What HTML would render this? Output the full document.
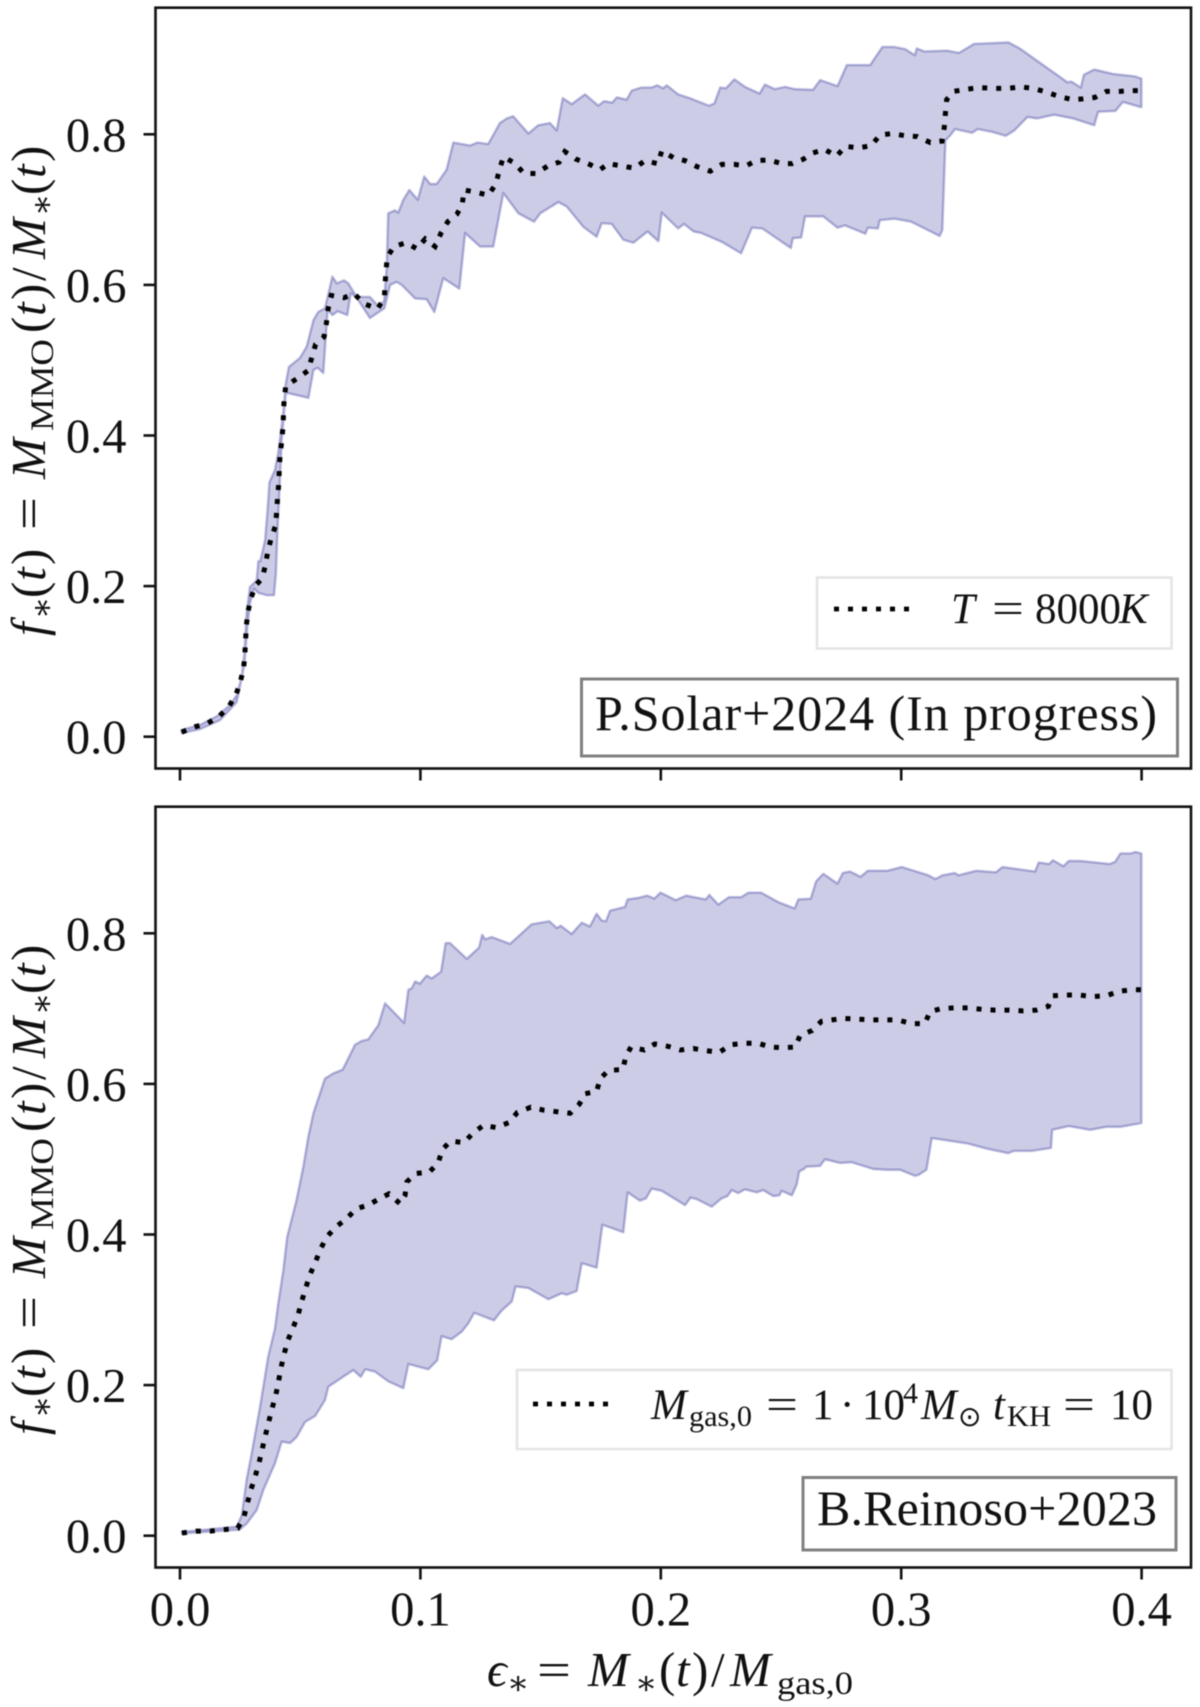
<!DOCTYPE html>
<html lang="en">
<head>
<meta charset="utf-8">
<title>Fraction of stellar mass in the most massive object</title>
<style>
  html, body { margin: 0; padding: 0; background: #fff; }
  svg { display: block; filter: blur(0.4px); }
  text { font-family: "Liberation Serif", "DejaVu Serif", serif; fill: #111; }
  .i { font-style: italic; }
</style>
</head>
<body>
<svg id="chart" xmlns="http://www.w3.org/2000/svg" width="1200" height="1707" viewBox="0 0 1200 1707">
  <rect x="0" y="0" width="1200" height="1707" fill="#fff"/>
  <g id="panel-top"></g>
  <g id="panel-bottom"></g>

  <!-- Y axis titles -->
  <text transform="translate(45,636) rotate(-90)" font-size="49"><tspan class="i" x="0">f</tspan><tspan font-size="33" x="17" y="8">∗</tspan><tspan x="38" y="0">(</tspan><tspan class="i" x="55">t</tspan><tspan x="71">)</tspan><tspan x="106" textLength="33" lengthAdjust="spacingAndGlyphs">=</tspan><tspan class="i" x="157">M</tspan><tspan font-size="33" x="205" y="8" textLength="92" lengthAdjust="spacingAndGlyphs">MMO</tspan><tspan x="303" y="0">(</tspan><tspan class="i" x="320">t</tspan><tspan x="336">)</tspan><tspan x="355">/</tspan><tspan class="i" x="377">M</tspan><tspan font-size="33" x="420" y="8">∗</tspan><tspan x="441" y="0">(</tspan><tspan class="i" x="458">t</tspan><tspan x="474">)</tspan></text>
  <text transform="translate(45,1435) rotate(-90)" font-size="49"><tspan class="i" x="0">f</tspan><tspan font-size="33" x="17" y="8">∗</tspan><tspan x="38" y="0">(</tspan><tspan class="i" x="55">t</tspan><tspan x="71">)</tspan><tspan x="106" textLength="33" lengthAdjust="spacingAndGlyphs">=</tspan><tspan class="i" x="157">M</tspan><tspan font-size="33" x="205" y="8" textLength="92" lengthAdjust="spacingAndGlyphs">MMO</tspan><tspan x="303" y="0">(</tspan><tspan class="i" x="320">t</tspan><tspan x="336">)</tspan><tspan x="355">/</tspan><tspan class="i" x="377">M</tspan><tspan font-size="33" x="420" y="8">∗</tspan><tspan x="441" y="0">(</tspan><tspan class="i" x="458">t</tspan><tspan x="474">)</tspan></text>

  <!-- X axis title -->
  <text font-size="49" y="1686"><tspan class="i" x="487">ϵ</tspan><tspan font-size="33" x="507" y="1694">∗</tspan><tspan x="537" y="1686" textLength="34" lengthAdjust="spacingAndGlyphs">=</tspan><tspan class="i" x="588">M</tspan><tspan font-size="33" x="635" y="1694">∗</tspan><tspan x="659" y="1686">(</tspan><tspan class="i" x="676">t</tspan><tspan x="692">)</tspan><tspan x="711">/</tspan><tspan class="i" x="730">M</tspan><tspan font-size="33" x="777" y="1694" textLength="76" lengthAdjust="spacingAndGlyphs">gas,0</tspan></text>

  <!-- Top legend -->
  <g>
    <rect x="817" y="577.5" width="354.5" height="71" fill="#fff" stroke="#e4e4e4" stroke-width="2.5"/>
    <line x1="834" y1="609" x2="918" y2="609" stroke="#000" stroke-width="4.8" stroke-dasharray="5 9"/>
    <text font-size="43" y="623"><tspan class="i" x="951">T</tspan><tspan x="992" textLength="32" lengthAdjust="spacingAndGlyphs">=</tspan><tspan x="1035">8000</tspan><tspan class="i" x="1119">K</tspan></text>
  </g>
  <g>
    <rect x="581.5" y="679" width="596" height="77" fill="#fff" stroke="#808080" stroke-width="3"/>
    <text font-size="50" x="595" y="730" textLength="562">P.Solar+2024 (In progress)</text>
  </g>

  <!-- Bottom legend -->
  <g>
    <rect x="517" y="1370" width="654.5" height="79" fill="#fff" stroke="#e4e4e4" stroke-width="2.5"/>
    <line x1="533" y1="1404" x2="617" y2="1404" stroke="#000" stroke-width="4.8" stroke-dasharray="5 9"/>
    <text font-size="43" y="1419"><tspan class="i" x="651">M</tspan><tspan font-size="30" x="689" y="1426" textLength="63" lengthAdjust="spacingAndGlyphs">gas,0</tspan><tspan x="766" y="1419" textLength="32" lengthAdjust="spacingAndGlyphs">=</tspan><tspan x="812">1</tspan><tspan x="840">·</tspan><tspan x="862">10</tspan><tspan font-size="30" x="903" y="1403">4</tspan><tspan class="i" x="921" y="1419">M</tspan><tspan font-size="28" x="958" y="1426" font-family="DejaVu Sans, sans-serif">⊙</tspan><tspan class="i" x="993" y="1419">t</tspan><tspan font-size="30" x="1007" y="1426" textLength="44" lengthAdjust="spacingAndGlyphs">KH</tspan><tspan x="1063" y="1419" textLength="32" lengthAdjust="spacingAndGlyphs">=</tspan><tspan x="1110">10</tspan></text>
  </g>
  <g>
    <rect x="803" y="1477.5" width="373" height="72.5" fill="#fff" stroke="#808080" stroke-width="3"/>
    <text font-size="50" x="817" y="1525" textLength="340">B.Reinoso+2023</text>
  </g>
</svg>

<script>
const xTickValues = [0.0, 0.1, 0.2, 0.3, 0.4];
const xTickLabels = ["0.0", "0.1", "0.2", "0.3", "0.4"];
const yTickValues = [0.0, 0.2, 0.4, 0.6, 0.8];
const yTickLabels = ["0.0", "0.2", "0.4", "0.6", "0.8"];

/* [epsilon, f] readings: top panel, T = 8000K */
const topMedian = [[.0007,.006],[.0061,.013],[.0116,.018],[.0163,.027],[.0205,.041],[.0233,.056],[.0252,.074],[.0265,.092],[.0270,.111],[.0273,.129],[.0276,.148],[.0283,.166],[.0295,.184],[.0315,.201],[.0341,.210],[.0355,.227],[.0365,.246],[.0379,.263],[.0398,.281],[.0402,.299],[.0406,.318],[.0411,.337],[.0413,.355],[.0416,.373],[.0423,.392],[.0428,.410],[.0433,.447],[.0440,.466],[.0484,.475],[.0532,.486],[.0548,.503],[.0564,.521],[.0599,.531],[.0609,.549],[.0616,.568],[.0629,.586],[.0682,.583],[.0725,.588],[.0767,.575],[.0821,.568],[.0850,.582],[.0853,.601],[.0857,.619],[.0862,.637],[.0890,.651],[.0940,.656],[.0985,.648],[.1020,.661],[.1061,.651],[.1086,.669],[.1114,.684],[.1152,.694],[.1173,.706],[.1183,.726],[.1233,.723],[.1282,.719],[.1314,.734],[.1328,.752],[.1345,.770],[.1391,.762],[.1431,.748],[.1482,.748],[.1530,.758],[.1577,.763],[.1601,.777],[.1647,.767],[.1698,.761],[.1747,.753],[.1782,.761],[.1837,.758],[.1891,.755],[.1934,.765],[.1988,.761],[.2004,.778],[.2052,.769],[.2101,.765],[.2151,.757],[.2206,.751],[.2254,.760],[.2307,.760],[.2354,.758],[.2396,.765],[.2450,.766],[.2503,.761],[.2546,.761],[.2593,.767],[.2630,.775],[.2681,.780],[.2731,.771],[.2768,.784],[.2825,.782],[.2876,.785],[.2911,.799],[.2963,.801],[.3017,.798],[.3067,.797],[.3121,.789],[.3170,.791],[.3179,.809],[.3184,.828],[.3189,.846],[.3219,.857],[.3275,.860],[.3327,.862],[.3386,.861],[.3444,.861],[.3495,.863],[.3549,.861],[.3605,.856],[.3658,.850],[.3714,.846],[.3755,.847],[.3806,.849],[.3854,.857],[.3909,.857],[.3962,.858],[.3999,.858]];
const topUpper = [[.0007,.009],[.0083,.0155],[.0153,.027],[.0208,.042],[.0236,.055],[.0257,.080],[.0268,.111],[.0277,.164],[.0291,.199],[.0300,.2015],[.0319,.208],[.0326,.233],[.0334,.233],[.0354,.261],[.0365,.305],[.0372,.338],[.0395,.354],[.0409,.378],[.0428,.425],[.0440,.469],[.0453,.491],[.0499,.503],[.0527,.518],[.0555,.553],[.0575,.564],[.0603,.569],[.0634,.611],[.0652,.602],[.0682,.606],[.0700,.602],[.0735,.584],[.0790,.584],[.0821,.573],[.0849,.578],[.0860,.624],[.0866,.695],[.0894,.699],[.0908,.696],[.0929,.713],[.0954,.726],[.0989,.713],[.1016,.744],[.1040,.734],[.1068,.734],[.1109,.753],[.1137,.789],[.1206,.785],[.1237,.789],[.1282,.787],[.1331,.815],[.1359,.821],[.1386,.824],[.1449,.801],[.1490,.812],[.1539,.815],[.1567,.805],[.1592,.848],[.1629,.840],[.1685,.853],[.1740,.838],[.1764,.844],[.1798,.842],[.1817,.849],[.1858,.846],[.1879,.858],[.1918,.862],[.1961,.862],[.1985,.865],[.2009,.861],[.2025,.865],[.2072,.853],[.2120,.848],[.2200,.838],[.2223,.841],[.2247,.862],[.2271,.861],[.2306,.873],[.2350,.863],[.2411,.854],[.2433,.866],[.2474,.860],[.2517,.863],[.2557,.860],[.2633,.859],[.2663,.872],[.2735,.864],[.2774,.892],[.2871,.892],[.2922,.916],[.2970,.916],[.3017,.913],[.3057,.905],[.3065,.914],[.3096,.910],[.3192,.911],[.3240,.908],[.3303,.920],[.3446,.922],[.3493,.914],[.3692,.869],[.3708,.870],[.3747,.862],[.3760,.879],[.3803,.886],[.3883,.880],[.3970,.877],[.3999,.874]];
const topLower = [[.0007,.005],[.0083,.010],[.0166,.022],[.0222,.041],[.0236,.046],[.0252,.071],[.0268,.097],[.0280,.146],[.0291,.177],[.0308,.197],[.0326,.191],[.0361,.188],[.0391,.188],[.0399,.217],[.0405,.270],[.0413,.323],[.0423,.394],[.0440,.457],[.0534,.450],[.0555,.487],[.0573,.490],[.0596,.483],[.0614,.567],[.0634,.560],[.0656,.565],[.0696,.560],[.0710,.589],[.0735,.583],[.0790,.556],[.0850,.569],[.0874,.600],[.0901,.604],[.0922,.600],[.0978,.582],[.1026,.581],[.1058,.564],[.1095,.609],[.1162,.595],[.1186,.669],[.1248,.651],[.1303,.651],[.1345,.722],[.1408,.695],[.1449,.688],[.1473,.684],[.1498,.695],[.1574,.710],[.1609,.704],[.1678,.677],[.1733,.664],[.1754,.682],[.1796,.681],[.1844,.660],[.1886,.656],[.1945,.671],[.1990,.658],[.2004,.696],[.2072,.675],[.2097,.681],[.2136,.671],[.2168,.669],[.2255,.657],[.2334,.642],[.2379,.676],[.2422,.675],[.2541,.649],[.2549,.662],[.2584,.663],[.2600,.691],[.2676,.691],[.2735,.676],[.2766,.679],[.2851,.668],[.2861,.676],[.2903,.675],[.2911,.686],[.2973,.688],[.3041,.684],[.3160,.665],[.3171,.673],[.3184,.792],[.3205,.799],[.3224,.807],[.3295,.802],[.3319,.807],[.3382,.803],[.3435,.798],[.3470,.805],[.3525,.823],[.3565,.821],[.3636,.826],[.3716,.821],[.3803,.812],[.3819,.830],[.3891,.831],[.3922,.843],[.3999,.836]];

/* [epsilon, f] readings: bottom panel, Mgas,0 = 1e4 Msun, tKH = 10 */
const bottomMedian = [[.0008,.0036],[.0067,.006],[.0125,.006],[.0183,.008],[.0240,.010],[.0266,.025],[.0280,.043],[.0295,.061],[.0313,.079],[.0329,.097],[.0342,.115],[.0355,.133],[.0369,.151],[.0383,.169],[.0398,.186],[.0410,.205],[.0420,.223],[.0433,.241],[.0448,.259],[.0470,.276],[.0491,.293],[.0506,.311],[.0523,.329],[.0541,.347],[.0564,.364],[.0585,.381],[.0611,.397],[.0648,.410],[.0693,.421],[.0732,.434],[.0782,.439],[.0832,.448],[.0869,.454],[.0915,.441],[.0936,.452],[.0944,.470],[.0980,.481],[.1037,.483],[.1074,.495],[.1091,.513],[.1126,.524],[.1181,.522],[.1220,.535],[.1262,.545],[.1316,.542],[.1370,.549],[.1403,.562],[.1459,.569],[.1515,.565],[.1569,.563],[.1623,.561],[.1661,.573],[.1685,.587],[.1733,.590],[.1748,.607],[.1783,.618],[.1842,.619],[.1854,.636],[.1876,.649],[.1931,.645],[.1975,.653],[.2029,.650],[.2081,.645],[.2136,.647],[.2192,.644],[.2244,.642],[.2291,.652],[.2347,.654],[.2405,.654],[.2455,.649],[.2509,.648],[.2559,.649],[.2579,.664],[.2630,.671],[.2668,.683],[.2713,.685],[.2760,.687],[.2817,.686],[.2871,.685],[.2929,.685],[.2985,.685],[.3042,.680],[.3098,.680],[.3120,.696],[.3167,.700],[.3222,.701],[.3278,.701],[.3336,.699],[.3391,.698],[.3447,.698],[.3505,.697],[.3561,.698],[.3612,.703],[.3631,.717],[.3686,.718],[.3739,.718],[.3797,.716],[.3854,.717],[.3905,.723],[.3961,.725],[.3999,.725]];
const bottomUpper = [[.0008,.005],[.0236,.012],[.0257,.027],[.0277,.074],[.0298,.109],[.0333,.171],[.0367,.238],[.0395,.275],[.0409,.309],[.0430,.353],[.0446,.397],[.0471,.428],[.0485,.446],[.0513,.490],[.0534,.530],[.0555,.561],[.0603,.607],[.0638,.614],[.0677,.619],[.0728,.652],[.0756,.657],[.0783,.659],[.0825,.678],[.0853,.707],[.0932,.681],[.0950,.725],[.0964,.727],[.0978,.736],[.0998,.733],[.1026,.744],[.1047,.740],[.1086,.749],[.1105,.787],[.1123,.787],[.1193,.766],[.1244,.781],[.1257,.798],[.1269,.792],[.1297,.795],[.1373,.786],[.1463,.812],[.1536,.816],[.1567,.807],[.1584,.810],[.1629,.799],[.1671,.814],[.1705,.809],[.1733,.826],[.1754,.817],[.1772,.816],[.1789,.830],[.1851,.835],[.1862,.845],[.1906,.847],[.1943,.850],[.1973,.846],[.1999,.854],[.2062,.844],[.2106,.850],[.2187,.845],[.2202,.851],[.2239,.838],[.2284,.848],[.2335,.848],[.2365,.854],[.2417,.854],[.2491,.841],[.2557,.833],[.2572,.845],[.2624,.846],[.2646,.869],[.2676,.879],[.2735,.866],[.2757,.880],[.2787,.882],[.2831,.875],[.2861,.883],[.2942,.883],[.3002,.888],[.3113,.877],[.3142,.872],[.3172,.877],[.3223,.880],[.3238,.877],[.3312,.883],[.3394,.881],[.3421,.888],[.3557,.882],[.3572,.894],[.3616,.892],[.3631,.897],[.3675,.889],[.3697,.896],[.3749,.896],[.3868,.892],[.3890,.895],[.3912,.906],[.3956,.906],[.3974,.908],[.3999,.906]];
const bottomLower = [[.0008,.003],[.0247,.008],[.0277,.016],[.0319,.034],[.0347,.061],[.0395,.096],[.0423,.125],[.0458,.123],[.0485,.131],[.0520,.151],[.0562,.159],[.0603,.180],[.0617,.198],[.0721,.220],[.0752,.211],[.0770,.221],[.0811,.218],[.0866,.205],[.0929,.196],[.0950,.228],[.1033,.221],[.1070,.233],[.1088,.265],[.1130,.261],[.1172,.271],[.1199,.282],[.1224,.296],[.1306,.286],[.1338,.299],[.1380,.311],[.1396,.331],[.1449,.329],[.1532,.314],[.1588,.322],[.1608,.320],[.1650,.325],[.1671,.362],[.1733,.356],[.1757,.413],[.1802,.408],[.1844,.403],[.1862,.456],[.1913,.445],[.1938,.448],[.1962,.461],[.2004,.458],[.2101,.439],[.2124,.449],[.2149,.447],[.2212,.437],[.2253,.448],[.2277,.451],[.2295,.459],[.2322,.455],[.2350,.460],[.2399,.456],[.2426,.459],[.2468,.451],[.2493,.452],[.2503,.458],[.2545,.452],[.2565,.466],[.2576,.484],[.2596,.487],[.2604,.490],[.2662,.491],[.2683,.500],[.2745,.495],[.2794,.496],[.2884,.487],[.2940,.486],[.2995,.486],[.3057,.478],[.3071,.479],[.3105,.486],[.3127,.528],[.3275,.521],[.3357,.514],[.3445,.508],[.3468,.511],[.3542,.511],[.3623,.515],[.3628,.539],[.3697,.544],[.3786,.539],[.3853,.543],[.3912,.543],[.3999,.548]];

const NS = "http://www.w3.org/2000/svg";
const plotLeft = 155.5, plotRight = 1191;
const xOrigin = 180, xPerUnit = 2404;
const yPerUnit = 753;
const axisColor = "#111";

function xScale(value) {
  return xOrigin + value * xPerUnit;
}
function yScale(value, zeroY) {
  return zeroY - value * yPerUnit;
}
function pointsToPath(points, zeroY) {
  return points.map(function (p, i) {
    return (i ? "L" : "M") + xScale(p[0]).toFixed(2) + " " + yScale(p[1], zeroY).toFixed(2);
  }).join("");
}

function drawPanel(group, prefix, upper, lower, median, zeroY, top, bottom, showXLabels) {
  const band = document.createElementNS(NS, "path");
  
  
  band.setAttribute("d", pointsToPath(upper, zeroY) + pointsToPath(lower.slice().reverse(), zeroY).replace("M", "L") + "Z");
  band.setAttribute("fill", "navy");
  band.setAttribute("fill-opacity", "0.2");
  band.setAttribute("stroke", "navy");
  band.setAttribute("stroke-opacity", "0.27");
  band.setAttribute("stroke-width", "2.4");
  band.setAttribute("stroke-linejoin", "round");
  group.appendChild(band);

  const line = document.createElementNS(NS, "path");
  
  
  line.setAttribute("d", pointsToPath(median, zeroY));
  line.setAttribute("fill", "none");
  line.setAttribute("stroke", "#000");
  line.setAttribute("stroke-width", "5");
  line.setAttribute("stroke-dasharray", "5 9");
  group.appendChild(line);

  const frame = document.createElementNS(NS, "rect");
  
  
  frame.setAttribute("x", plotLeft);
  frame.setAttribute("y", top);
  frame.setAttribute("width", plotRight - plotLeft);
  frame.setAttribute("height", bottom - top);
  frame.setAttribute("fill", "none");
  frame.setAttribute("stroke", axisColor);
  frame.setAttribute("stroke-width", "2.6");
  group.appendChild(frame);

  xTickValues.forEach(function (value, i) {
    const tick = document.createElementNS(NS, "line");
    
    
    tick.setAttribute("x1", xScale(value));
    tick.setAttribute("x2", xScale(value));
    tick.setAttribute("y1", bottom);
    tick.setAttribute("y2", bottom + 12);
    tick.setAttribute("stroke", axisColor);
    tick.setAttribute("stroke-width", "2.6");
    group.appendChild(tick);
    if (showXLabels) {
      const label = document.createElementNS(NS, "text");
      
      
      label.setAttribute("x", xScale(value));
      label.setAttribute("y", bottom + 58);
      label.setAttribute("font-size", "48.5");
      label.setAttribute("text-anchor", "middle");
      label.textContent = xTickLabels[i];
      group.appendChild(label);
    }
  });

  yTickValues.forEach(function (value, i) {
    const tick = document.createElementNS(NS, "line");
    
    
    tick.setAttribute("x1", plotLeft - 12);
    tick.setAttribute("x2", plotLeft);
    tick.setAttribute("y1", yScale(value, zeroY));
    tick.setAttribute("y2", yScale(value, zeroY));
    tick.setAttribute("stroke", axisColor);
    tick.setAttribute("stroke-width", "2.6");
    group.appendChild(tick);
    const label = document.createElementNS(NS, "text");
    
    
    label.setAttribute("x", 126.5);
    label.setAttribute("y", yScale(value, zeroY) + 17);
    label.setAttribute("font-size", "48.5");
    label.setAttribute("text-anchor", "end");
    label.textContent = yTickLabels[i];
    group.appendChild(label);
  });
}

drawPanel(document.getElementById("panel-top"), "top", topUpper, topLower, topMedian, 736.7, 7.7, 768.5, false);
drawPanel(document.getElementById("panel-bottom"), "bottom", bottomUpper, bottomLower, bottomMedian, 1535.7, 806.7, 1567.5, true);
</script>
</body>
</html>
